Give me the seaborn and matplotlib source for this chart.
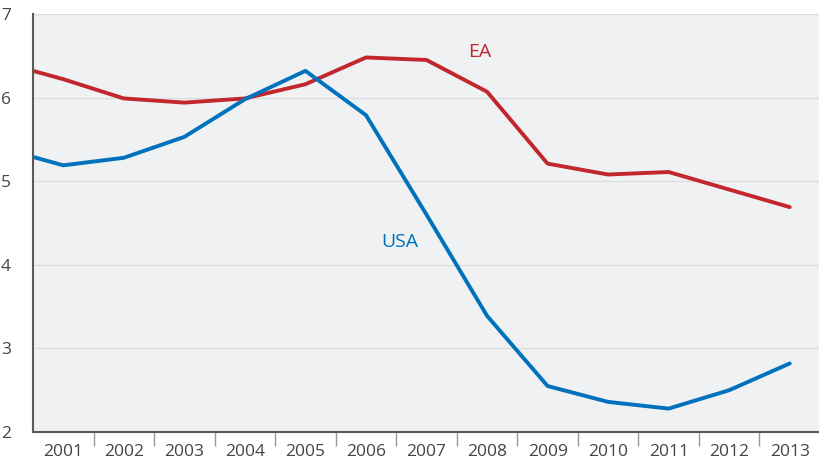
import matplotlib
matplotlib.use("Agg")
import matplotlib.pyplot as plt
import seaborn as sns
import pandas as pd
from matplotlib.ticker import FixedLocator

# data (2000 point only feeds the clipped start of the lines)
years = [2000, 2001, 2002, 2003, 2004, 2005, 2006, 2007, 2008, 2009, 2010, 2011, 2012, 2013]
ea = [6.42, 6.22, 5.99, 5.94, 5.99, 6.16, 6.48, 6.45, 6.07, 5.21, 5.08, 5.11, 4.90, 4.69]
usa = [5.39, 5.19, 5.28, 5.53, 5.98, 6.32, 5.79, 4.60, 3.39, 2.55, 2.36, 2.28, 2.50, 2.82]
year_labels = [str(y) for y in range(2001, 2014)]
y_ticks = [2, 3, 4, 5, 6, 7]

data = pd.DataFrame({
    "year": years * 2,
    "value": ea + usa,
    "series": ["EA"] * len(years) + ["USA"] * len(years),
})

red = "#c1272d"
blue = "#0072bc"

sns.set_theme(style="white")
plt.rcParams["font.family"] = ["Open Sans", "DejaVu Sans"]

fig = plt.figure(figsize=(8.2, 4.66), dpi=100)
ax = fig.add_axes([33 / 820, 34 / 466, 1 - 33 / 820, (432 - 14) / 466])
ax.set_facecolor("#f0f1f3")

sns.lineplot(data=data, x="year", y="value", hue="series",
             palette={"EA": red, "USA": blue}, linewidth=2.8,
             legend=False, ax=ax, solid_capstyle="round")

ax.set_xlim(2000.5, 2013.5)
ax.set_ylim(2, 7)
ax.set_yticks(y_ticks)
ax.set_yticklabels([str(t) for t in y_ticks])
ax.set_xticks(list(range(2001, 2014)))
ax.set_xticklabels(year_labels)
ax.xaxis.set_minor_locator(FixedLocator([y + 0.5 for y in range(2001, 2013)]))

ax.grid(axis="y", color="#dcdde0", linewidth=1.0)
ax.set_axisbelow(True)
ax.set_xlabel("")
ax.set_ylabel("")

for s in ["top", "right"]:
    ax.spines[s].set_visible(False)
for s in ["left", "bottom"]:
    ax.spines[s].set_color("#5a5a5a")
    ax.spines[s].set_linewidth(1.5)

ax.tick_params(axis="x", which="major", length=0, pad=9, labelsize=12.5, labelcolor="#444444")
ax.tick_params(axis="x", which="minor", length=10, width=1.0, color="#999999", bottom=True)
ax.tick_params(axis="y", length=0, pad=16, labelsize=12.5, labelcolor="#444444")

ax.text(2007.88, 6.55, "EA", color=red, fontsize=14, ha="center", va="center")
ax.text(2006.56, 4.27, "USA", color=blue, fontsize=14, ha="center", va="center")

plt.savefig("out.png", dpi=100)
